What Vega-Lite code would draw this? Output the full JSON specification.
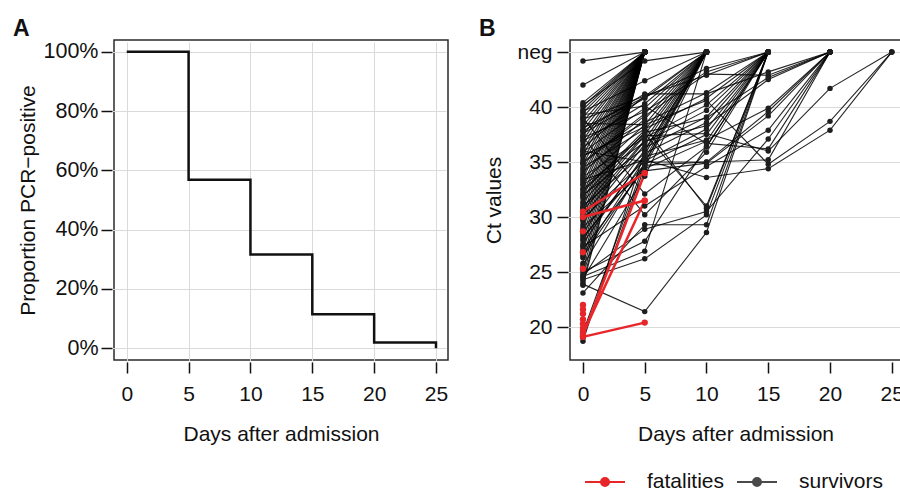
{
 "$schema": "https://vega.github.io/schema/vega-lite/v6.json",
 "background": "white",
 "padding": {"left": 12, "top": 16, "right": 0, "bottom": 0},
 "bounds": "flush",
 "spacing": 122,
 "config": {
  "font": "Liberation Sans",
  "view": {"stroke": "#2b2b2b", "strokeWidth": 1.5},
  "axis": {"labelFontSize": 21, "labelColor": "#111", "titleFontSize": 21, "titleFontWeight": "normal", "titleColor": "#111", "domain": false, "tickColor": "#111", "tickWidth": 1.5, "tickSize": 11, "offset": 2, "gridColor": "#dadada", "gridWidth": 1},
  "title": {"fontSize": 23, "fontWeight": "bold", "anchor": "start", "frame": "group", "baseline": "alphabetic", "offset": -0.5, "color": "#111"}
 },
 "datasets": {
  "km": [{"day":0,"prop":1},{"day":5,"prop":0.568},{"day":10,"prop":0.316},{"day":15,"prop":0.114},{"day":20,"prop":0.019},{"day":25,"prop":0}],
  "fatal": [
   {"p":"F1","d":0,"ct":30.5},{"p":"F1","d":5,"ct":34.0},
   {"p":"F2","d":0,"ct":30.0},{"p":"F2","d":5,"ct":31.5},
   {"p":"F3","d":0,"ct":19.2},{"p":"F3","d":5,"ct":34.0},
   {"p":"F4","d":0,"ct":19.4},{"p":"F4","d":5,"ct":31.5},
   {"p":"F5","d":0,"ct":19.1},{"p":"F5","d":5,"ct":20.4},
   {"p":"F6","d":0,"ct":28.7},{"p":"F7","d":0,"ct":26.8},{"p":"F8","d":0,"ct":25.3},
   {"p":"F9","d":0,"ct":22.0},{"p":"F10","d":0,"ct":21.6},{"p":"F11","d":0,"ct":21.2},
   {"p":"F12","d":0,"ct":20.7},{"p":"F13","d":0,"ct":20.3},{"p":"F14","d":0,"ct":19.9},{"p":"F15","d":0,"ct":19.6}
  ],
  "surv": [
   {"p":"A1","d":0,"ct":44.2},{"p":"A1","d":5,"ct":45},
   {"p":"A2","d":0,"ct":42.0},{"p":"A2","d":5,"ct":45},
   {"p":"A3","d":0,"ct":40.4},{"p":"A3","d":5,"ct":45},
   {"p":"A4","d":0,"ct":40.1},{"p":"A4","d":5,"ct":45},
   {"p":"A5","d":0,"ct":39.8},{"p":"A5","d":5,"ct":45},
   {"p":"A6","d":0,"ct":39.5},{"p":"A6","d":5,"ct":45},
   {"p":"A7","d":0,"ct":39.1},{"p":"A7","d":5,"ct":45},
   {"p":"A8","d":0,"ct":38.7},{"p":"A8","d":5,"ct":45},
   {"p":"A9","d":0,"ct":38.3},{"p":"A9","d":5,"ct":45},
   {"p":"A10","d":0,"ct":37.9},{"p":"A10","d":5,"ct":45},
   {"p":"A11","d":0,"ct":37.4},{"p":"A11","d":5,"ct":45},
   {"p":"A12","d":0,"ct":37.0},{"p":"A12","d":5,"ct":45},
   {"p":"A13","d":0,"ct":36.6},{"p":"A13","d":5,"ct":45},
   {"p":"A14","d":0,"ct":36.1},{"p":"A14","d":5,"ct":45},
   {"p":"A15","d":0,"ct":35.7},{"p":"A15","d":5,"ct":45},
   {"p":"A16","d":0,"ct":35.2},{"p":"A16","d":5,"ct":45},
   {"p":"A17","d":0,"ct":34.8},{"p":"A17","d":5,"ct":45},
   {"p":"A18","d":0,"ct":34.3},{"p":"A18","d":5,"ct":45},
   {"p":"A19","d":0,"ct":33.9},{"p":"A19","d":5,"ct":45},
   {"p":"A20","d":0,"ct":33.5},{"p":"A20","d":5,"ct":45},
   {"p":"A21","d":0,"ct":33.0},{"p":"A21","d":5,"ct":45},
   {"p":"A22","d":0,"ct":32.6},{"p":"A22","d":5,"ct":45},
   {"p":"A23","d":0,"ct":32.1},{"p":"A23","d":5,"ct":45},
   {"p":"A24","d":0,"ct":31.7},{"p":"A24","d":5,"ct":45},
   {"p":"A25","d":0,"ct":31.2},{"p":"A25","d":5,"ct":45},
   {"p":"A26","d":0,"ct":30.8},{"p":"A26","d":5,"ct":45},
   {"p":"A27","d":0,"ct":30.3},{"p":"A27","d":5,"ct":45},
   {"p":"A28","d":0,"ct":29.8},{"p":"A28","d":5,"ct":45},
   {"p":"A29","d":0,"ct":29.3},{"p":"A29","d":5,"ct":45},
   {"p":"A30","d":0,"ct":28.9},{"p":"A30","d":5,"ct":45},
   {"p":"A31","d":0,"ct":28.4},{"p":"A31","d":5,"ct":45},
   {"p":"A32","d":0,"ct":27.9},{"p":"A32","d":5,"ct":45},
   {"p":"A33","d":0,"ct":27.4},{"p":"A33","d":5,"ct":45},
   {"p":"A34","d":0,"ct":26.9},{"p":"A34","d":5,"ct":45},
   {"p":"A35","d":0,"ct":26.3},{"p":"A35","d":5,"ct":45},
   {"p":"A36","d":0,"ct":25.8},{"p":"A36","d":5,"ct":45},
   {"p":"A37","d":0,"ct":25.2},{"p":"A37","d":5,"ct":45},
   {"p":"A38","d":0,"ct":24.6},{"p":"A38","d":5,"ct":45},
   {"p":"A39","d":0,"ct":24.1},{"p":"A39","d":5,"ct":45},
   {"p":"A40","d":0,"ct":23.8},{"p":"A40","d":5,"ct":45},
   {"p":"B1","d":0,"ct":40.2},{"p":"B1","d":5,"ct":44.2},{"p":"B1","d":10,"ct":45},
   {"p":"B2","d":0,"ct":39.6},{"p":"B2","d":5,"ct":42.4},{"p":"B2","d":10,"ct":45},
   {"p":"B3","d":0,"ct":38.9},{"p":"B3","d":5,"ct":41.0},{"p":"B3","d":10,"ct":45},
   {"p":"B4","d":0,"ct":37.6},{"p":"B4","d":5,"ct":40.8},{"p":"B4","d":10,"ct":45},
   {"p":"B5","d":0,"ct":36.9},{"p":"B5","d":5,"ct":40.3},{"p":"B5","d":10,"ct":45},
   {"p":"B6","d":0,"ct":35.9},{"p":"B6","d":5,"ct":39.9},{"p":"B6","d":10,"ct":45},
   {"p":"B7","d":0,"ct":35.0},{"p":"B7","d":5,"ct":39.4},{"p":"B7","d":10,"ct":45},
   {"p":"B8","d":0,"ct":34.1},{"p":"B8","d":5,"ct":38.9},{"p":"B8","d":10,"ct":45},
   {"p":"B9","d":0,"ct":33.2},{"p":"B9","d":5,"ct":38.4},{"p":"B9","d":10,"ct":45},
   {"p":"B10","d":0,"ct":32.3},{"p":"B10","d":5,"ct":37.9},{"p":"B10","d":10,"ct":45},
   {"p":"B11","d":0,"ct":31.4},{"p":"B11","d":5,"ct":37.5},{"p":"B11","d":10,"ct":45},
   {"p":"B12","d":0,"ct":30.6},{"p":"B12","d":5,"ct":37.0},{"p":"B12","d":10,"ct":45},
   {"p":"B13","d":0,"ct":29.6},{"p":"B13","d":5,"ct":36.6},{"p":"B13","d":10,"ct":45},
   {"p":"B14","d":0,"ct":28.6},{"p":"B14","d":5,"ct":36.1},{"p":"B14","d":10,"ct":45},
   {"p":"B15","d":0,"ct":27.6},{"p":"B15","d":5,"ct":35.7},{"p":"B15","d":10,"ct":45},
   {"p":"B16","d":0,"ct":26.6},{"p":"B16","d":5,"ct":35.3},{"p":"B16","d":10,"ct":45},
   {"p":"B17","d":0,"ct":25.6},{"p":"B17","d":5,"ct":34.9},{"p":"B17","d":10,"ct":45},
   {"p":"B18","d":0,"ct":19.5},{"p":"B18","d":5,"ct":35.0},{"p":"B18","d":10,"ct":45},
   {"p":"B19","d":0,"ct":19.0},{"p":"B19","d":5,"ct":34.6},{"p":"B19","d":10,"ct":45},
   {"p":"B20","d":0,"ct":18.7},{"p":"B20","d":5,"ct":36.0},{"p":"B20","d":10,"ct":45},
   {"p":"B21","d":0,"ct":24.4},{"p":"B21","d":5,"ct":33.7},{"p":"B21","d":10,"ct":45},
   {"p":"B22","d":0,"ct":24.6},{"p":"B22","d":5,"ct":26.9},{"p":"B22","d":10,"ct":45},
   {"p":"C1","d":0,"ct":38.1},{"p":"C1","d":5,"ct":40.9},{"p":"C1","d":10,"ct":43.5},{"p":"C1","d":15,"ct":45},
   {"p":"C2","d":0,"ct":37.2},{"p":"C2","d":5,"ct":39.6},{"p":"C2","d":10,"ct":43.2},{"p":"C2","d":15,"ct":45},
   {"p":"C3","d":0,"ct":36.3},{"p":"C3","d":5,"ct":41.0},{"p":"C3","d":10,"ct":42.9},{"p":"C3","d":15,"ct":45},
   {"p":"C4","d":0,"ct":35.5},{"p":"C4","d":5,"ct":38.6},{"p":"C4","d":10,"ct":41.3},{"p":"C4","d":15,"ct":45},
   {"p":"C5","d":0,"ct":34.5},{"p":"C5","d":5,"ct":38.0},{"p":"C5","d":10,"ct":40.8},{"p":"C5","d":15,"ct":45},
   {"p":"C6","d":0,"ct":33.7},{"p":"C6","d":5,"ct":37.2},{"p":"C6","d":10,"ct":40.2},{"p":"C6","d":15,"ct":45},
   {"p":"C7","d":0,"ct":32.9},{"p":"C7","d":5,"ct":36.8},{"p":"C7","d":10,"ct":39.7},{"p":"C7","d":15,"ct":45},
   {"p":"C8","d":0,"ct":32.0},{"p":"C8","d":5,"ct":36.3},{"p":"C8","d":10,"ct":39.1},{"p":"C8","d":15,"ct":45},
   {"p":"C9","d":0,"ct":31.0},{"p":"C9","d":5,"ct":35.8},{"p":"C9","d":10,"ct":38.6},{"p":"C9","d":15,"ct":45},
   {"p":"C10","d":0,"ct":29.9},{"p":"C10","d":5,"ct":35.1},{"p":"C10","d":10,"ct":38.0},{"p":"C10","d":15,"ct":45},
   {"p":"C11","d":0,"ct":28.2},{"p":"C11","d":5,"ct":34.8},{"p":"C11","d":10,"ct":37.5},{"p":"C11","d":15,"ct":45},
   {"p":"C12","d":0,"ct":27.1},{"p":"C12","d":5,"ct":34.4},{"p":"C12","d":10,"ct":36.9},{"p":"C12","d":15,"ct":45},
   {"p":"C13","d":0,"ct":39.0},{"p":"C13","d":5,"ct":32.1},{"p":"C13","d":10,"ct":36.4},{"p":"C13","d":15,"ct":45},
   {"p":"C14","d":0,"ct":37.3},{"p":"C14","d":5,"ct":30.2},{"p":"C14","d":10,"ct":35.9},{"p":"C14","d":15,"ct":45},
   {"p":"C15","d":0,"ct":23.1},{"p":"C15","d":5,"ct":29.3},{"p":"C15","d":10,"ct":29.3},{"p":"C15","d":15,"ct":45},
   {"p":"C16","d":0,"ct":23.9},{"p":"C16","d":5,"ct":21.4},{"p":"C16","d":10,"ct":28.6},{"p":"C16","d":15,"ct":45},
   {"p":"C17","d":0,"ct":24.3},{"p":"C17","d":5,"ct":26.2},{"p":"C17","d":10,"ct":30.2},{"p":"C17","d":15,"ct":45},
   {"p":"C18","d":0,"ct":25.0},{"p":"C18","d":5,"ct":27.8},{"p":"C18","d":10,"ct":36.4},{"p":"C18","d":15,"ct":45},
   {"p":"C19","d":0,"ct":32.5},{"p":"C19","d":5,"ct":37.6},{"p":"C19","d":10,"ct":31.0},{"p":"C19","d":15,"ct":45},
   {"p":"C20","d":0,"ct":35.6},{"p":"C20","d":5,"ct":38.2},{"p":"C20","d":10,"ct":30.8},{"p":"C20","d":15,"ct":45},
   {"p":"D1","d":0,"ct":37.8},{"p":"D1","d":5,"ct":41.2},{"p":"D1","d":10,"ct":41.2},{"p":"D1","d":15,"ct":43.2},{"p":"D1","d":20,"ct":45},
   {"p":"D2","d":0,"ct":34.9},{"p":"D2","d":5,"ct":39.2},{"p":"D2","d":10,"ct":43.0},{"p":"D2","d":15,"ct":42.9},{"p":"D2","d":20,"ct":45},
   {"p":"D3","d":0,"ct":31.9},{"p":"D3","d":5,"ct":37.7},{"p":"D3","d":10,"ct":39.0},{"p":"D3","d":15,"ct":42.7},{"p":"D3","d":20,"ct":45},
   {"p":"D4","d":0,"ct":30.1},{"p":"D4","d":5,"ct":36.9},{"p":"D4","d":10,"ct":38.3},{"p":"D4","d":15,"ct":42.5},{"p":"D4","d":20,"ct":45},
   {"p":"D5","d":0,"ct":28.0},{"p":"D5","d":5,"ct":35.5},{"p":"D5","d":10,"ct":37.0},{"p":"D5","d":15,"ct":39.9},{"p":"D5","d":20,"ct":45},
   {"p":"D6","d":0,"ct":26.4},{"p":"D6","d":5,"ct":34.7},{"p":"D6","d":10,"ct":35.0},{"p":"D6","d":15,"ct":39.6},{"p":"D6","d":20,"ct":45},
   {"p":"D7","d":0,"ct":29.1},{"p":"D7","d":5,"ct":34.2},{"p":"D7","d":10,"ct":34.9},{"p":"D7","d":15,"ct":39.2},{"p":"D7","d":20,"ct":45},
   {"p":"D8","d":0,"ct":27.3},{"p":"D8","d":5,"ct":31.0},{"p":"D8","d":10,"ct":34.6},{"p":"D8","d":15,"ct":37.9},{"p":"D8","d":20,"ct":45},
   {"p":"D9","d":0,"ct":24.8},{"p":"D9","d":5,"ct":28.9},{"p":"D9","d":10,"ct":30.5},{"p":"D9","d":15,"ct":37.1},{"p":"D9","d":20,"ct":45},
   {"p":"D10","d":0,"ct":39.3},{"p":"D10","d":5,"ct":40.1},{"p":"D10","d":10,"ct":36.7},{"p":"D10","d":15,"ct":36.2},{"p":"D10","d":20,"ct":45},
   {"p":"D11","d":0,"ct":36.0},{"p":"D11","d":5,"ct":35.0},{"p":"D11","d":10,"ct":35.0},{"p":"D11","d":15,"ct":35.2},{"p":"D11","d":20,"ct":45},
   {"p":"E1","d":0,"ct":38.5},{"p":"E1","d":5,"ct":38.4},{"p":"E1","d":10,"ct":40.6},{"p":"E1","d":15,"ct":34.8},{"p":"E1","d":20,"ct":38.7},{"p":"E1","d":25,"ct":45},
   {"p":"E2","d":0,"ct":33.4},{"p":"E2","d":5,"ct":35.2},{"p":"E2","d":10,"ct":33.6},{"p":"E2","d":15,"ct":34.4},{"p":"E2","d":20,"ct":37.9},{"p":"E2","d":25,"ct":45},
   {"p":"E3","d":0,"ct":30.9},{"p":"E3","d":5,"ct":37.4},{"p":"E3","d":10,"ct":37.6},{"p":"E3","d":15,"ct":36.0},{"p":"E3","d":20,"ct":41.7},{"p":"E3","d":25,"ct":45}
  ]
 },
 "hconcat": [
  {
   "width": 334,
   "height": 320,
   "title": {"text": "A", "dx": -101},
   "data": {"name": "km"},
   "mark": {"type": "line", "interpolate": "step-after", "color": "#111", "strokeWidth": 2.5},
   "encoding": {
    "x": {"field": "day", "type": "quantitative", "scale": {"domain": [-1.03, 25.97], "nice": false, "zero": false},
          "axis": {"values": [0, 5, 10, 15, 20, 25], "grid": true, "title": "Days after admission", "labelPadding": 10, "titleY": 78, "titleBaseline": "alphabetic"}},
    "y": {"field": "prop", "type": "quantitative", "scale": {"domain": [-0.04, 1.04], "nice": false, "zero": false},
          "axis": {"values": [0, 0.2, 0.4, 0.6, 0.8, 1], "format": ".0%", "grid": true, "title": "Proportion PCR\u2212positive", "labelPadding": 3, "labelFontSize": 21.5, "titleX": -78, "titleBaseline": "alphabetic"}}
   }
  },
  {
   "width": 333,
   "height": 320,
   "title": {"text": "B", "dx": -91},
   "encoding": {
    "x": {"field": "d", "type": "quantitative", "scale": {"domain": [-1.05, 25.91], "nice": false, "zero": false},
          "axis": {"values": [0, 5, 10, 15, 20, 25], "grid": false, "title": "Days after admission", "labelPadding": 10, "titleY": 78, "titleX": 165.5, "titleBaseline": "alphabetic"}},
    "y": {"field": "ct", "type": "quantitative", "scale": {"domain": [17, 46.1], "nice": false, "zero": false},
          "axis": {"values": [20, 25, 30, 35, 40, 45], "labelExpr": "datum.value == 45 ? 'neg' : datum.label", "grid": true, "title": "Ct values", "labelPadding": 5, "titleX": -68, "titleBaseline": "alphabetic"}}
   },
   "layer": [
    {"data": {"name": "surv"}, "mark": {"type": "line", "color": "#000", "strokeWidth": 1.1, "opacity": 0.85}, "encoding": {"detail": {"field": "p"}}},
    {"data": {"name": "fatal"}, "mark": {"type": "line", "color": "#e8262a", "strokeWidth": 2.5}, "encoding": {"detail": {"field": "p"}}},
    {"data": {"name": "surv"}, "mark": {"type": "point", "filled": true, "size": 30, "opacity": 1, "color": "#1e1e1e"}},
    {"data": {"name": "fatal"}, "mark": {"type": "point", "filled": true, "size": 40, "opacity": 1, "color": "#e8262a"}},
    {"data": {"name": "fatal"}, "mark": {"type": "point", "filled": false, "opacity": 0},
     "encoding": {"color": {"datum": "fatalities", "scale": {"domain": ["fatalities", "survivors"], "range": ["#e8262a", "#4a4a4a"]},
       "legend": {"orient": "none", "legendX": 480, "legendY": 431, "direction": "horizontal", "title": null,
         "symbolType": "M-2,0H2M-0.4,0A0.4,0.4,0,1,1,0.4,0A0.4,0.4,0,1,1,-0.4,0ZM-0.25,0A0.25,0.25,0,1,1,0.25,0A0.25,0.25,0,1,1,-0.25,0ZM-0.1,0A0.1,0.1,0,1,1,0.1,0A0.1,0.1,0,1,1,-0.1,0Z",
         "symbolSize": 400, "symbolStrokeWidth": 2, "symbolOpacity": 1,
         "labelFontSize": 21, "labelColor": "#111", "labelOffset": 31, "columnPadding": 8}}}}
   ]
  }
 ]
}
